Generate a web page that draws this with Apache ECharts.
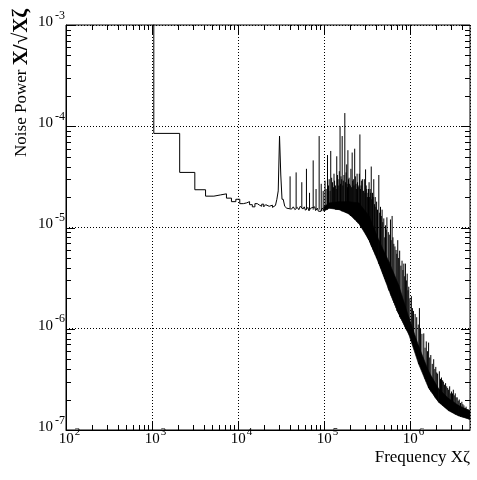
<!DOCTYPE html>
<html><head><meta charset="utf-8">
<script src="https://cdn.jsdelivr.net/npm/echarts@6/dist/echarts.min.js"></script>
<style>html,body{margin:0;padding:0;background:#fff}#c{width:477px;height:480px}</style>
</head><body><div id="c"></div>
<script>
// ---- data ----
const xTickExponents = [2, 3, 4, 5, 6];
const yTickExponents = [-7, -6, -5, -4, -3];
const xTitle = 'Frequency Xζ';
const yTitlePlain = 'Noise Power ';
const yTitleBold = 'X/√Xζ';

// histogram bins at low frequency: upper bin edge (Hz) and bin value
const stepEdges = [1050, 2100, 3150, 4200, 5250, 6300, 7350, 8400, 9450, 10500, 11550, 12600, 13650, 14700, 15750, 16800,
  17850, 18900, 19950, 21000, 22050, 23100, 24150, 25200, 26250, 27300, 28350, 29400, 30450, 31500, 32550, 33600];
const stepValues = [3e-3, 8.5e-5, 3.5e-5, 2.36e-5, 2.04e-5, 2.1e-5, 2.15e-5, 1.95e-5, 1.8e-5, 1.9e-5, 1.72e-5, 1.75e-5,
  1.8e-5, 1.68e-5, 1.6e-5, 1.72e-5, 1.66e-5, 1.62e-5, 1.7e-5, 1.6e-5, 1.68e-5, 1.62e-5, 1.58e-5, 1.66e-5, 1.58e-5,
  1.65e-5, 1.7e-5, 1.9e-5, 2.3e-5, 8.0e-5, 3.3e-5, 1.9e-5];

// baseline between 33 kHz and 100 kHz
const wiggleFreq = [33600, 35000, 37000, 39000, 42000, 44000, 46000, 49000, 51000, 53000, 57000, 59000, 61000, 65000,
  67000, 70000, 72000, 78000, 80000, 84000, 86000, 90000, 92000, 95000, 100000];
const wiggleValues = [1.9e-5, 1.62e-5, 1.55e-5, 1.6e-5, 1.52e-5, 1.6e-5, 1.5e-5, 1.58e-5, 1.5e-5, 1.62e-5, 1.52e-5,
  1.6e-5, 1.48e-5, 1.58e-5, 1.46e-5, 1.55e-5, 1.5e-5, 1.6e-5, 1.47e-5, 1.55e-5, 1.45e-5, 1.5e-5, 1.44e-5, 1.55e-5, 1.5e-5];

// dense band above 100 kHz: lower and upper edge
const bandFreq = [100000, 115000, 150000, 195000, 255000, 335000, 435000, 570000, 740000, 970000, 1260000, 1650000,
  2160000, 2820000, 3680000, 5000000];
const bandLow = [1.45e-5, 1.55e-5, 1.5e-5, 1.36e-5, 1.1e-5, 7.5e-6, 4.4e-6, 2.4e-6, 1.4e-6, 8.8e-7, 4.5e-7, 2.6e-7,
  1.88e-7, 1.55e-7, 1.38e-7, 1.28e-7];
const bandHigh = [1.6e-5, 1.75e-5, 1.8e-5, 1.8e-5, 1.75e-5, 1.3e-5, 7.5e-6, 4.6e-6, 2.7e-6, 1.3e-6, 6.8e-7, 3.8e-7,
  2.55e-7, 2.05e-7, 1.75e-7, 1.55e-7];

// tall narrow peaks: frequency, peak value, value at the foot
const spikeFreq = [40400, 47500, 55300, 62600, 68000, 75000, 81000, 88000, 93000, 98000,
  103000, 110000, 115000, 120000, 126000, 131000, 136000, 141000, 146000, 154000, 158000, 163000, 168000, 175000,
  181000, 186000, 190000, 196000, 203000, 213000, 220000, 228000, 236000, 243000, 250000, 262000, 270000, 280000,
  290000, 305000, 315000, 325000, 335000, 345000, 355000, 367000, 380000, 395000, 410000, 435000, 455000, 475000,
  484000, 497000, 520000, 540000, 560000, 594000, 621000, 650000, 690000, 722000, 760000, 810000, 850000, 887000,
  930000, 970000, 1040000, 1100000, 1200000, 1290000, 1380000, 1450000, 1550000, 1650000, 1750000, 1890000,
  2000000, 2100000, 2200000, 2330000, 2450000, 2600000, 2750000, 2900000, 3050000, 3200000, 3370000, 3550000,
  3750000, 4020000, 4250000, 4500000, 4750000, 4950000];
const spikeTop = [3.2e-5, 3.5e-5, 2.8e-5, 3.8e-5, 2.2e-5, 4.6e-5, 2.4e-5, 8.0e-5, 2.7e-5, 2.3e-5,
  2.9e-5, 5.2e-5, 3.0e-5, 5.7e-5, 2.8e-5, 3.4e-5, 2.6e-5, 5.05e-5, 3.0e-5, 1.0e-4, 3.2e-5, 8.0e-5, 2.9e-5, 1.35e-4,
  3.5e-5, 2.7e-5, 5.8e-5, 3.1e-5, 2.6e-5, 5.5e-5, 3.0e-5, 6.0e-5, 2.7e-5, 3.4e-5, 2.5e-5, 8.3e-5, 2.6e-5, 3.0e-5,
  2.3e-5, 3.75e-5, 2.4e-5, 2.2e-5, 2.8e-5, 2.4e-5, 4.0e-5, 2.2e-5, 3.0e-5, 2.0e-5, 1.8e-5, 3.3e-5, 1.6e-5, 1.5e-5,
  1.13e-5, 1.23e-5, 1.05e-5, 1.26e-5, 9e-6, 1.2e-5, 1.3e-5, 6.9e-6, 6.0e-6, 7.5e-6, 5.9e-6, 4.7e-6, 4.4e-6, 4.4e-6,
  3.5e-6, 2.6e-6, 2.1e-6, 1.5e-6, 1.3e-6, 1.6e-6, 8.9e-7, 9e-7, 7.5e-7, 7.3e-7, 5.5e-7, 5.0e-7,
  4.2e-7, 3.6e-7, 3.8e-7, 3.3e-7, 3.0e-7, 2.9e-7, 2.6e-7, 2.7e-7, 2.4e-7, 2.5e-7, 2.3e-7, 2.1e-7,
  2.0e-7, 1.9e-7, 1.75e-7, 1.7e-7, 1.6e-7, 1.55e-7];
const spikeBase = [1.55e-5, 1.55e-5, 1.55e-5, 1.5e-5, 1.5e-5, 1.5e-5, 1.5e-5, 1.5e-5, 1.45e-5, 1.45e-5,
  1.5e-5, 1.5e-5, 1.55e-5, 1.55e-5, 1.55e-5, 1.55e-5, 1.5e-5, 1.5e-5, 1.5e-5, 1.5e-5, 1.5e-5, 1.45e-5, 1.45e-5, 1.45e-5,
  1.4e-5, 1.4e-5, 1.4e-5, 1.35e-5, 1.3e-5, 1.3e-5, 1.25e-5, 1.2e-5, 1.2e-5, 1.15e-5, 1.1e-5, 1.05e-5, 1.0e-5, 9.8e-6,
  9.5e-6, 8.8e-6, 8.3e-6, 7.8e-6, 7.5e-6, 7e-6, 6.6e-6, 6.2e-6, 5.8e-6, 5.4e-6, 5e-6, 4.4e-6, 4e-6, 3.7e-6,
  3.5e-6, 3.3e-6, 3e-6, 2.8e-6, 2.5e-6, 2.2e-6, 2e-6, 1.8e-6, 1.6e-6, 1.45e-6, 1.3e-6, 1.2e-6, 1.1e-6, 1.0e-6,
  9.5e-7, 9e-7, 8e-7, 7e-7, 5.5e-7, 4.5e-7, 4e-7, 3.5e-7, 3e-7, 2.6e-7, 2.4e-7, 2.2e-7,
  2.05e-7, 1.95e-7, 1.85e-7, 1.8e-7, 1.72e-7, 1.65e-7, 1.6e-7, 1.55e-7, 1.5e-7, 1.47e-7, 1.42e-7, 1.4e-7,
  1.37e-7, 1.34e-7, 1.32e-7, 1.3e-7, 1.28e-7, 1.27e-7];

// smaller peaks filling the comb above the band
const smallSpikeFreq = [106000, 113000, 118000, 123000, 129000, 133000, 139000, 144000, 149000, 151000, 156000, 161000,
  166000, 171000, 178000, 184000, 188000, 193000, 199000, 206000, 210000, 216000, 224000, 232000, 240000, 246000,
  255000, 258000, 266000, 275000, 285000, 295000, 300000, 310000, 320000, 330000, 340000, 350000, 360000, 373000,
  388000, 402000, 420000, 445000, 465000, 510000, 530000, 575000, 605000, 635000, 670000, 705000, 740000, 785000,
  830000, 870000, 910000, 950000, 1000000, 1070000, 1150000, 1250000, 1330000, 1500000, 1600000, 1700000, 1820000,
  1950000, 2050000, 2270000, 2400000, 2530000, 2680000, 2820000, 2980000, 3130000, 3280000, 3450000, 3650000,
  3880000, 4130000, 4380000, 4620000, 4850000];
const smallSpikeTop = [2.4e-5, 2.6e-5, 2.3e-5, 3.1e-5, 2.5e-5, 2.9e-5, 2.4e-5, 3.3e-5, 2.6e-5, 3.6e-5, 2.7e-5, 3.0e-5,
  2.6e-5, 3.3e-5, 2.8e-5, 4.2e-5, 2.5e-5, 3.0e-5, 2.7e-5, 3.8e-5, 2.5e-5, 2.9e-5, 2.6e-5, 3.2e-5, 2.4e-5, 2.8e-5,
  2.6e-5, 3.4e-5, 2.4e-5, 2.9e-5, 2.3e-5, 3.0e-5, 2.2e-5, 2.6e-5, 2.0e-5, 2.4e-5, 2.0e-5, 2.2e-5, 1.9e-5, 2.0e-5,
  1.7e-5, 1.6e-5, 1.5e-5, 1.4e-5, 1.3e-5, 8e-6, 9.5e-6, 8.5e-6, 7.5e-6, 8e-6, 6.5e-6, 5.5e-6, 5e-6, 4.2e-6,
  3.8e-6, 3.3e-6, 3e-6, 2.4e-6, 2.0e-6, 1.6e-6, 1.4e-6, 1.1e-6, 1.0e-6, 6.5e-7, 6e-7, 5.2e-7, 4.5e-7,
  4e-7, 3.7e-7, 3.2e-7, 3.1e-7, 2.8e-7, 2.7e-7, 2.5e-7, 2.3e-7, 2.3e-7, 2.2e-7, 2.1e-7, 1.95e-7,
  1.85e-7, 1.8e-7, 1.65e-7, 1.6e-7, 1.5e-7];
const smallSpikeBase = [1.5e-5, 1.55e-5, 1.55e-5, 1.55e-5, 1.55e-5, 1.55e-5, 1.5e-5, 1.5e-5, 1.5e-5, 1.5e-5, 1.5e-5, 1.45e-5,
  1.45e-5, 1.45e-5, 1.45e-5, 1.4e-5, 1.4e-5, 1.38e-5, 1.35e-5, 1.3e-5, 1.3e-5, 1.27e-5, 1.22e-5, 1.18e-5, 1.14e-5, 1.12e-5,
  1.1e-5, 1.08e-5, 1.02e-5, 9.9e-6, 9.6e-6, 9.2e-6, 9e-6, 8.5e-6, 8e-6, 7.6e-6, 7.2e-6, 6.8e-6, 6.4e-6, 6e-6,
  5.6e-6, 5.3e-6, 4.8e-6, 4.2e-6, 3.9e-6, 3.1e-6, 2.9e-6, 2.4e-6, 2.1e-6, 1.9e-6, 1.7e-6, 1.5e-6, 1.4e-6, 1.25e-6,
  1.15e-6, 1.05e-6, 9.7e-7, 9.2e-7, 8.5e-7, 7.5e-7, 6.3e-7, 5e-7, 4.2e-7, 3.2e-7, 2.8e-7, 2.5e-7, 2.3e-7,
  2.1e-7, 2e-7, 1.82e-7, 1.75e-7, 1.68e-7, 1.62e-7, 1.57e-7, 1.52e-7, 1.48e-7, 1.44e-7, 1.41e-7, 1.38e-7,
  1.35e-7, 1.33e-7, 1.31e-7, 1.29e-7, 1.27e-7];

// ---- chart ----
const FONT = 'Liberation Serif';
const X_MIN = 100, X_MAX = 5e6, Y_MIN = 1e-7, Y_MAX = 1e-3;

const tickData = [];
xTickExponents.forEach(e => {
  const d = Math.pow(10, e);
  tickData.push([d, Y_MIN, 0]);
  for (let m = 2; m <= 9; m++) if (m * d < X_MAX) tickData.push([m * d, Y_MIN, 1]);
});
yTickExponents.forEach(e => {
  const d = Math.pow(10, e);
  tickData.push([X_MIN, d, 2]);
  if (e < -3) for (let m = 2; m <= 9; m++) tickData.push([X_MIN, m * d, 3]);
});

const spikeData = spikeFreq.map((f, i) => [f, spikeTop[i], spikeBase[i]])
  .concat(smallSpikeFreq.map((f, i) => [f, smallSpikeTop[i], smallSpikeBase[i]]));

function expLabel(v) {
  const l = Math.log10(v), e = Math.round(l);
  if (Math.abs(l - e) > 0.01) return '';
  return e;
}
const chart = echarts.init(document.getElementById('c'), null, {renderer: 'canvas'});
const dotted = {color: '#000', width: 1, type: [1, 2]};
chart.setOption({
  animation: false,
  backgroundColor: '#fff',
  grid: {left: 66, right: 7, top: 25, bottom: 50, show: true, borderColor: '#000', borderWidth: 1, backgroundColor: 'transparent'},
  xAxis: {
    type: 'log', logBase: 10, min: X_MIN, max: X_MAX,
    axisLine: {show: true, lineStyle: {color: '#000', width: 1}},
    axisTick: {show: false},
    splitLine: {show: true, lineStyle: dotted},
    axisLabel: {
      color: '#000', fontFamily: FONT, fontSize: 15, margin: 2, showMaxLabel: false, showMinLabel: true,
      formatter: v => { const e = expLabel(v); return e === '' ? '' : '{p|}{b|10}{e|' + e + '}'; },
      rich: {
        p: {width: 7, fontSize: 15, fontFamily: FONT},
        b: {fontSize: 15, fontFamily: FONT, color: '#000', verticalAlign: 'bottom', lineHeight: 15},
        e: {fontSize: 11, fontFamily: FONT, color: '#000', verticalAlign: 'bottom', lineHeight: 11, padding: [0, 0, 9, 1]}
      }
    }
  },
  yAxis: {
    type: 'log', logBase: 10, min: Y_MIN, max: Y_MAX,
    axisLine: {show: true, lineStyle: {color: '#000', width: 1}},
    axisTick: {show: false},
    splitLine: {show: true, lineStyle: dotted},
    axisLabel: {
      color: '#000', fontFamily: FONT, fontSize: 15, margin: 1, showMinLabel: true, showMaxLabel: true,
      padding: [0, 0, 6, 0],
      formatter: v => { const e = expLabel(v); return e === '' ? '' : '{b|10}{e|' + e + '}'; },
      rich: {
        b: {fontSize: 15, fontFamily: FONT, color: '#000', verticalAlign: 'bottom', lineHeight: 15},
        e: {fontSize: 12, fontFamily: FONT, color: '#000', verticalAlign: 'bottom', lineHeight: 12, padding: [0, 0, 8, 2]}
      }
    }
  },
  graphic: [
    {type: 'text', x: 470, y: 458, style: {text: xTitle, fontFamily: FONT, fontSize: 17, fill: '#000',
      align: 'right', textAlign: 'right', verticalAlign: 'middle', textVerticalAlign: 'middle'}},
    {type: 'text', x: 22, y: 9, rotation: Math.PI / 2, style: {text: yTitlePlain + '{b|' + yTitleBold + '}',
      fontFamily: FONT, fontSize: 17, fill: '#000', align: 'right', textAlign: 'right', verticalAlign: 'middle', textVerticalAlign: 'middle',
      rich: {b: {fontFamily: FONT, fontSize: 21, fontWeight: 'bold', fill: '#000'}}}}
  ],
  series: [
    {
      type: 'custom', name: 'band', coordinateSystem: 'cartesian2d', clip: true, silent: true,
      data: bandFreq.map((f, i) => [f, bandLow[i], bandHigh[i]]),
      encode: {x: 0, y: 1},
      renderItem: (p, api) => {
        const i = p.dataIndexInside;
        if (i >= p.dataInsideLength - 1) return null;
        const a = api.coord([api.value(0, i), api.value(1, i)]);
        const b = api.coord([api.value(0, i + 1), api.value(1, i + 1)]);
        const c = api.coord([api.value(0, i + 1), api.value(2, i + 1)]);
        const d = api.coord([api.value(0, i), api.value(2, i)]);
        return {type: 'polygon', shape: {points: [a, b, c, d]}, style: {fill: '#000', stroke: '#000', lineWidth: 0.6}};
      }
    },
    {
      type: 'custom', name: 'spikes', coordinateSystem: 'cartesian2d', clip: true, silent: true,
      data: spikeData,
      encode: {x: 0, y: 1},
      renderItem: (p, api) => {
        const a = api.coord([api.value(0), api.value(2)]);
        const b = api.coord([api.value(0), api.value(1)]);
        return {type: 'line', shape: {x1: a[0], y1: a[1], x2: b[0], y2: b[1]}, style: {stroke: '#000', lineWidth: 1}};
      }
    },
    {
      type: 'line', name: 'bins', step: 'start', symbol: 'none', clip: true, silent: true,
      data: stepEdges.map((f, i) => [f, stepValues[i]]),
      lineStyle: {color: '#000', width: 1}
    },
    {
      type: 'line', name: 'baseline', symbol: 'none', clip: true, silent: true,
      data: wiggleFreq.map((f, i) => [f, wiggleValues[i]]),
      lineStyle: {color: '#000', width: 1}
    },
    {
      type: 'custom', name: 'ticks', coordinateSystem: 'cartesian2d', clip: false, silent: true, z: 5,
      data: tickData, encode: {x: 0, y: 1},
      renderItem: (p, api) => {
        const kind = api.value(2);
        const len = (kind === 0 || kind === 2) ? 9 : 5;
        const lo = api.coord([X_MIN, Y_MIN]), hi = api.coord([X_MAX, Y_MAX]);
        const st = {stroke: '#000', lineWidth: 1};
        if (kind < 2) {
          const x = Math.round(api.coord([api.value(0), Y_MIN])[0]) + 0.5;
          return {type: 'group', children: [
            {type: 'line', shape: {x1: x, y1: lo[1], x2: x, y2: lo[1] - len}, style: st},
            {type: 'line', shape: {x1: x, y1: hi[1], x2: x, y2: hi[1] + len}, style: st}]};
        }
        const y = Math.round(api.coord([X_MIN, api.value(1)])[1]) + 0.5;
        return {type: 'group', children: [
          {type: 'line', shape: {x1: lo[0], y1: y, x2: lo[0] + len, y2: y}, style: st},
          {type: 'line', shape: {x1: hi[0], y1: y, x2: hi[0] - len, y2: y}, style: st}]};
      }
    }
  ]
});
</script></body></html>
